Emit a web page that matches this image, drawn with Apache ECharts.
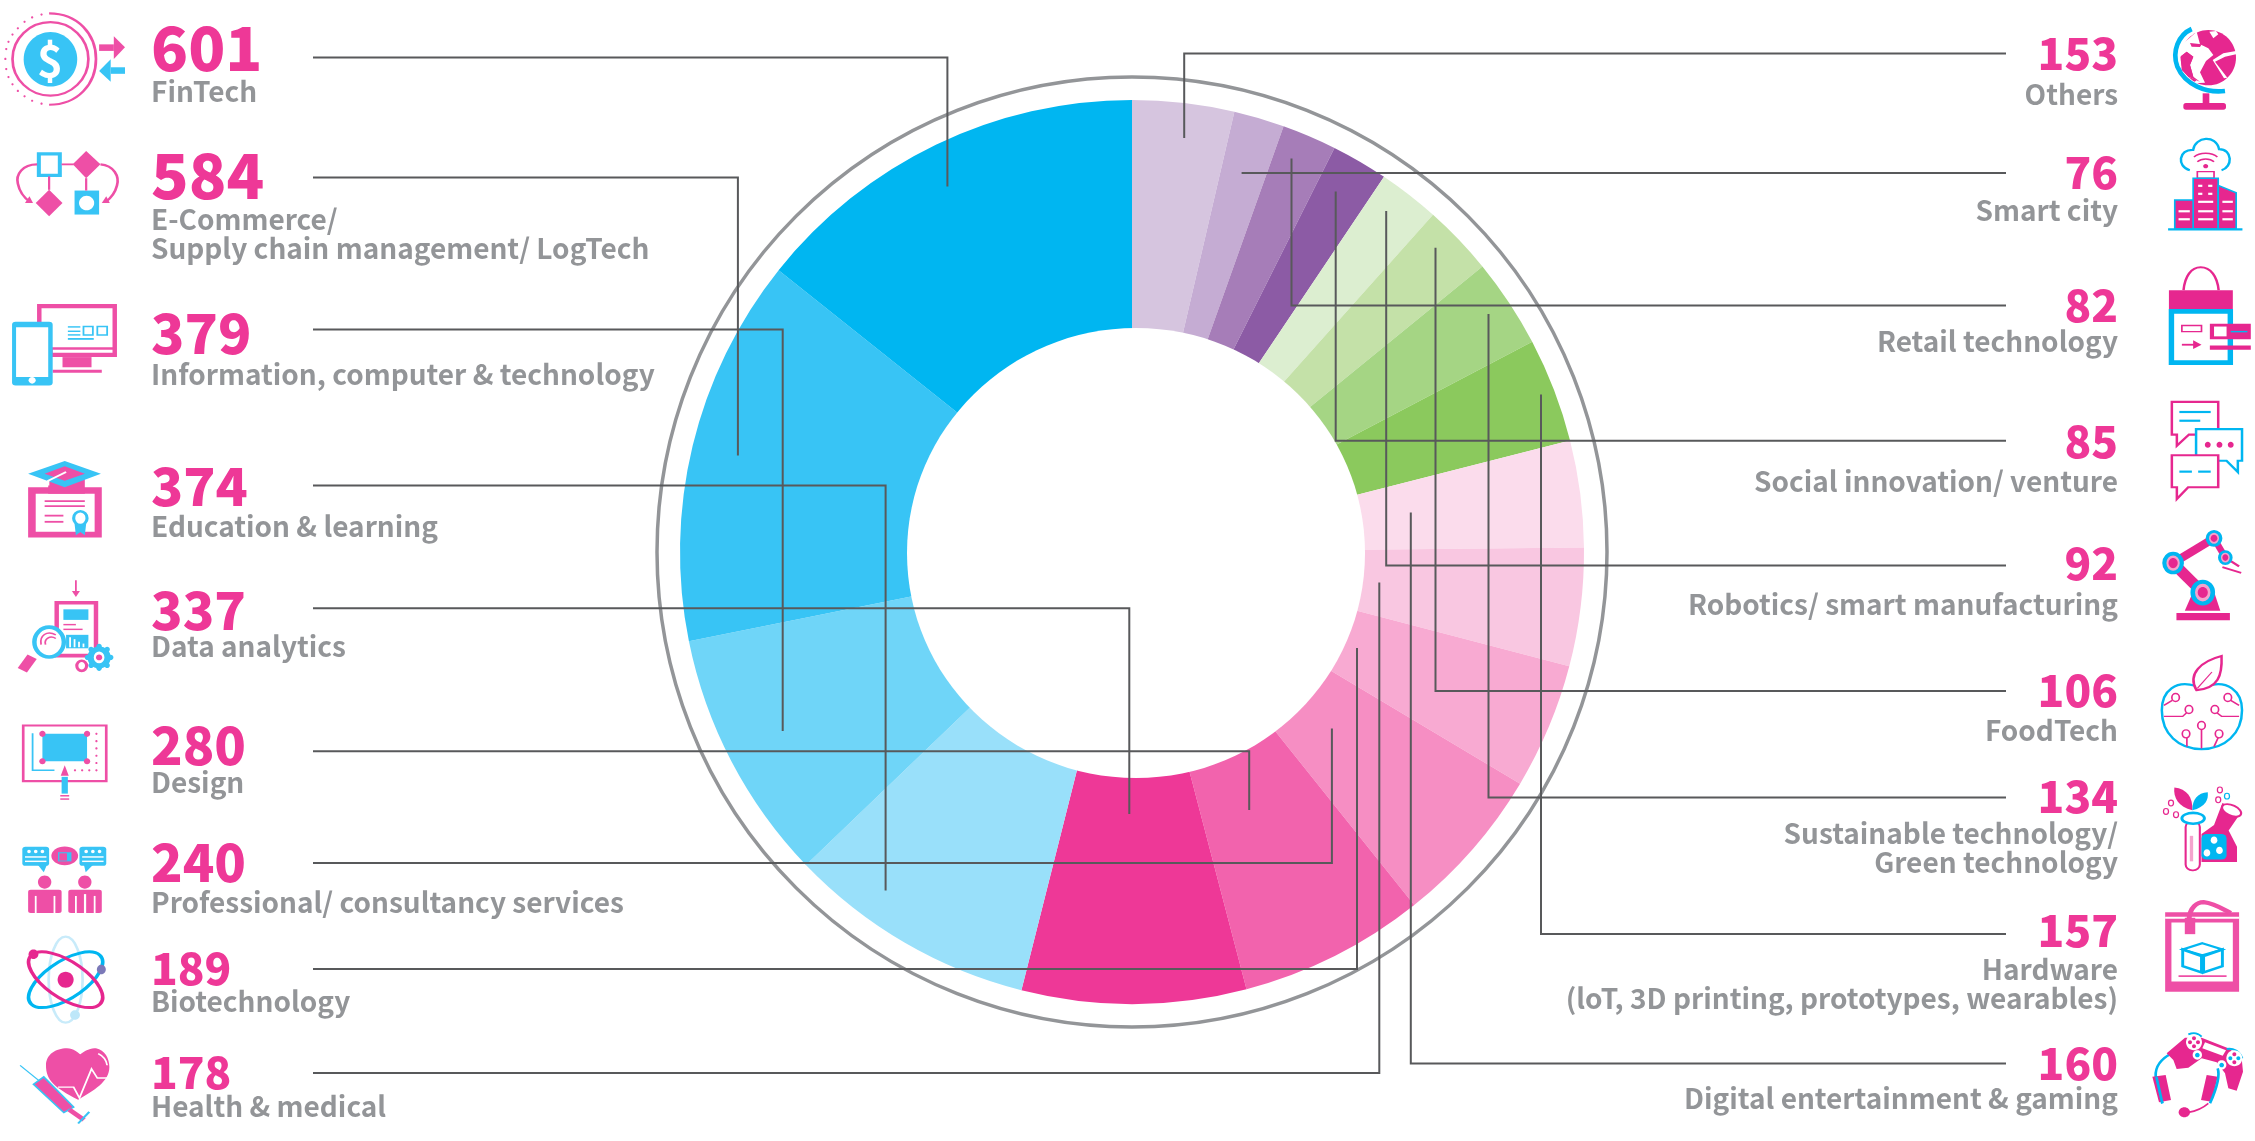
<!DOCTYPE html>
<html>
<head>
<meta charset="utf-8">
<title>Startups by sector</title>
<script src="https://cdn.jsdelivr.net/npm/echarts@6/dist/echarts.min.js"></script>
<style>html,body{margin:0;padding:0;background:#fff}#main{width:2255px;height:1141px}</style>
</head>
<body>
<div id="main"></div>
<script>
// clockwise from 12 o'clock
var categories = ['Others', 'Smart city', 'Retail technology', 'Social innovation/ venture', 'Robotics/ smart manufacturing', 'FoodTech',
    'Sustainable technology/\nGreen technology', 'Hardware\n(loT, 3D printing, prototypes, wearables)', 'Digital entertainment & gaming',
    'Health & medical', 'Biotechnology', 'Professional/ consultancy services', 'Design', 'Data analytics', 'Education & learning',
    'Information, computer & technology', 'E-Commerce/\nSupply chain management/ LogTech', 'FinTech'];
var values = [153, 76, 82, 85, 92, 106, 134, 157, 160, 178, 189, 240, 280, 337, 374, 379, 584, 601];
var colors = ['#D6C5DF', '#C5ACD3', '#A67DB8', '#8C5BA5', '#DCEED0', '#C4E1A8', '#A5D584', '#8BC95D', '#FBDCEC',
    '#F9C7E1', '#F8AAD2', '#F68EC3', '#F263AD', '#EE3897', '#99E0FA', '#6FD5F8', '#38C4F5', '#00B6F1'];

// text and leader layout, same order as categories
var numberBase = [69, 188.5, 321.5, 457.5, 579.6, 706, 812, 946, 1079, 1088, 984, 881.5, 764, 629, 505.5, 353.6, 198, 70.5];
var numberSize = [44, 44, 44, 44, 44, 44, 44, 44, 44, 44, 44, 52, 52, 52, 53, 55, 62, 61];
var labelBase = [104.7, 220.7, 352, 491.6, 615.5, 741, 843.9, 979.7, 1109, 1117, 1012.5, 913.4, 792.9, 657.4, 536.7, 384.7, 230, 102];
var lineY = [53.5, 173, 305.5, 440.7, 565.4, 691, 797.5, 934, 1063.4, 1073, 969, 863, 751.3, 608.3, 485.6, 329.6, 177.6, 57.6];
var leaderX = [1184.2, 1241.6, 1291.5, 1335.7, 1386.2, 1435.5, 1488.5, 1541, 1410.8, 1379.3, 1357, 1331.9, 1249.2, 1129.3, 885.6, 782.7, 737.9, 947.4];
var leaderEnd = [138, 173, 158.4, 191.6, 211, 247.7, 314, 394.4, 512.4, 582.5, 648, 728.6, 810, 814, 890.6, 731, 455.6, 186.5];

var PINK = '#EE3897', MID = '#EE4FA6', BLUE = '#38C4F5', CYAN = '#00B6F1', GREY = '#939598', WHITE = '#fff', DEEP = '#E6278F';
var FONT = '"Noto Sans CJK SC"';

// small shape helpers for the icons
function rc(x1, y1, x2, y2, fill, stroke, lw, r) {
    return {type: 'rect', shape: {x: x1, y: y1, width: x2 - x1, height: y2 - y1, r: r || 0}, style: {fill: fill || 'none', stroke: stroke || 'none', lineWidth: lw || 0}};
}
function el(cx, cy, rx, ry, fill, stroke, lw, rot) {
    if (rot) {
        return {type: 'ellipse', x: cx, y: cy, rotation: rot, shape: {cx: 0, cy: 0, rx: rx, ry: ry}, style: {fill: fill || 'none', stroke: stroke || 'none', lineWidth: lw || 0}};
    }
    return {type: 'ellipse', shape: {cx: cx, cy: cy, rx: rx, ry: ry}, style: {fill: fill || 'none', stroke: stroke || 'none', lineWidth: lw || 0}};
}
function pg(pts, fill, stroke, lw) {
    return {type: 'polygon', shape: {points: pts}, style: {fill: fill || 'none', stroke: stroke || 'none', lineWidth: lw || 0}};
}
function ln(pts, stroke, lw) {
    return {type: 'polyline', shape: {points: pts}, style: {fill: 'none', stroke: stroke, lineWidth: lw || 5}};
}
var pathCount = 0;
function pa(d, fill, stroke, lw) {
    // the graphic component has no raw path element, so each one is registered as a shape
    var name = 'iconPath' + (pathCount++);
    echarts.graphic.registerShape(name, echarts.graphic.extendPath(d));
    return {type: name, shape: {}, style: {fill: fill || 'none', stroke: stroke || 'none', lineWidth: lw || 0}};
}
function dots(list, r, fill) {
    return list.map(function (p) { return el(p[0], p[1], r, r * 1.2, fill); });
}
function circles(list, r, fill) {
    return list.map(function (p) { return el(p[0], p[1], r, r, fill); });
}

var iconsTop = [
    // fintech
    el(113, 162, 85, 101, WHITE, MID, 6), el(113, 163, 60, 75, BLUE),
    pa('M110 37 C175 37 215 95 215 162 C215 230 175 288 110 288', 'none', MID, 6),
    rc(222, 122, 255, 140, MID), pg([[255, 100], [280, 130], [255, 162]], MID),
    rc(248, 185, 280, 203, BLUE), pg([[248, 163], [222, 195], [248, 225]], BLUE)
].concat(dots([[93, 40], [72, 48], [55, 60], [40, 78], [28, 95], [19, 115], [14, 135], [12, 162], [14, 190], [19, 212], [28, 232], [40, 250], [55, 265], [72, 277], [93, 285]], 2.5, MID), [
    // e-commerce
    rc(87, 423, 134, 482, WHITE, BLUE, 9),
    pg([[193, 415], [225, 452], [193, 490], [163, 452]], MID), pg([[110, 522], [140, 558], [110, 595], [80, 558]], MID),
    rc(167, 524, 222, 590, BLUE), el(194, 558, 17, 20, WHITE),
    ln([[138, 452], [165, 452]], MID, 5), ln([[110, 485], [110, 522]], MID, 5), ln([[193, 490], [193, 524]], MID, 5),
    pa('M83 452 C50 452 35 480 40 505 C44 530 55 545 68 556', 'none', MID, 6),
    pa('M225 452 C255 455 268 485 262 510 C258 530 248 545 236 556', 'none', MID, 6),
    pg([[56, 558], [74, 558], [66, 540]], MID), pg([[228, 558], [246, 558], [238, 540]], MID),
    // information
    rc(83, 836, 262, 982, MID), rc(93, 848, 252, 955, WHITE), rc(118, 962, 252, 970, WHITE),
    rc(140, 982, 205, 1010, MID), rc(118, 1017, 228, 1025, MID),
    rc(27, 885, 118, 1060, BLUE, null, 0, 8), rc(36, 900, 108, 1037, WHITE), el(72, 1046, 8, 9, WHITE),
    ln([[152, 899], [180, 899]], BLUE, 4), ln([[152, 911], [180, 911]], BLUE, 4), ln([[152, 921], [180, 921]], BLUE, 4), ln([[152, 932], [210, 932]], BLUE, 5),
    rc(187, 898, 208, 921, WHITE, BLUE, 4), rc(218, 898, 240, 921, WHITE, BLUE, 4),
    // education
    rc(63, 1340, 228, 1478, MID), rc(80, 1358, 212, 1462, WHITE), rc(108, 1310, 190, 1358, MID),
    pg([[145, 1268], [226, 1303], [145, 1340], [63, 1303]], BLUE), pg([[145, 1282], [190, 1303], [145, 1322], [100, 1303]], MID),
    ln([[108, 1335], [108, 1322], [148, 1298]], WHITE, 5),
    ln([[100, 1378], [190, 1378]], MID, 5), ln([[100, 1392], [190, 1392]], MID, 5), ln([[100, 1418], [142, 1418]], MID, 5), ln([[100, 1435], [142, 1435]], MID, 5),
    pg([[167, 1440], [193, 1440], [190, 1472], [180, 1463], [170, 1472]], BLUE), el(180, 1425, 15, 19, WHITE, BLUE, 7)
]);

var iconsBottomLeft = [
    // data analytics
    ln([[170, 28], [170, 62]], MID, 4), pg([[161, 58], [179, 58], [170, 74]], MID),
    rc(122, 85, 220, 240, MID), rc(132, 95, 210, 230, WHITE), rc(142, 108, 198, 137, BLUE),
    ln([[142, 150], [170, 150]], MID, 4), ln([[142, 163], [185, 163]], MID, 4), rc(148, 178, 198, 215, BLUE),
    rc(155, 185, 159, 212, WHITE), rc(165, 190, 169, 212, WHITE), rc(175, 197, 179, 212, WHITE), rc(185, 202, 189, 212, WHITE),
    ln([[72, 238], [50, 275]], MID, 24), el(110, 198, 33, 41, WHITE, BLUE, 10),
    pa('M125 178 C105 165 88 180 92 205', 'none', MID, 4), pa('M125 188 C112 178 98 190 102 205', 'none', MID, 4),
    el(222, 240, 19, 23, WHITE, BLUE, 14), el(222, 240, 7, 8, MID), el(183, 263, 11, 14, WHITE, MID, 7)
].concat(dots([[222, 210], [222, 270], [196, 240], [248, 240], [204, 218], [240, 218], [204, 262], [240, 262]], 6, BLUE), [
    // design
    rc(52, 427, 238, 580, WHITE, MID, 6), rc(95, 450, 195, 525, BLUE),
    ln([[73, 448], [73, 550], [122, 550]], BLUE, 4)
], dots([[95, 450], [195, 450], [95, 525], [195, 525]], 7, MID),
    dots([[216, 450], [216, 470], [216, 490], [216, 510], [216, 530], [216, 550], [168, 550], [184, 550], [200, 550]], 2.5, MID), [
    pg([[145, 536], [136, 565], [154, 565]], MID), pg([[138, 568], [152, 568], [152, 614], [138, 614]], BLUE),
    rc(135, 618, 155, 622, MID), rc(135, 627, 155, 631, MID),
    // professional
    rc(50, 760, 110, 812, BLUE, null, 0, 7), pg([[85, 810], [105, 810], [98, 830]], BLUE), rc(178, 760, 238, 812, BLUE, null, 0, 7), pg([[188, 810], [208, 810], [192, 830]], BLUE),
    ln([[56, 788], [104, 788]], WHITE, 4), ln([[56, 800], [104, 800]], WHITE, 4), ln([[184, 788], [232, 788]], WHITE, 4), ln([[184, 800], [232, 800]], WHITE, 4)
], dots([[65, 773], [80, 773], [95, 773], [193, 773], [208, 773], [223, 773]], 4, WHITE), [
    el(145, 785, 30, 26, MID), rc(130, 775, 160, 800, BLUE), rc(133, 778, 150, 798, MID),
    el(100, 857, 15, 18, MID), el(190, 857, 15, 18, MID),
    rc(63, 878, 138, 942, MID, null, 0, 6), rc(153, 878, 228, 942, MID, null, 0, 6),
    rc(78, 895, 82, 942, WHITE), rc(120, 895, 124, 942, WHITE), rc(168, 895, 172, 942, WHITE), rc(210, 895, 214, 942, WHITE),
    rc(188, 890, 193, 942, WHITE),
    // biotech
    el(147, 1125, 38, 118, 'none', '#C8EBFA', 6),
    el(147, 1125, 102, 48, 'none', CYAN, 8, 0.72), el(147, 1125, 102, 48, 'none', DEEP, 8, -0.72),
    el(147, 1125, 18, 22, DEEP), el(75, 1055, 11, 13, DEEP), el(227, 1097, 10, 13, '#7B79B8'), el(168, 1222, 11, 13, '#BDE7F9'),
    // health
    pa('M175 1455 C120 1420 103 1400 103 1360 C103 1330 125 1313 150 1313 C165 1313 175 1325 180 1330 C190 1318 205 1313 215 1313 C235 1318 245 1340 245 1365 C245 1405 210 1430 175 1455Z', MID),
    ln([[130, 1420], [165, 1420], [178, 1450], [205, 1370], [218, 1395], [245, 1395]], WHITE, 4),
    pa('M220 1328 C232 1335 238 1345 240 1360', 'none', WHITE, 4),
    ln([[45, 1360], [90, 1405]], BLUE, 3), pg([[75, 1412], [98, 1392], [165, 1475], [143, 1490]], MID, BLUE, 4),
    ln([[155, 1482], [188, 1510]], MID, 12), ln([[175, 1520], [200, 1488]], BLUE, 5)
]);

var iconsTopRight = [
    // smart city
    pa('M1412 468 C1380 458 1385 410 1420 412 C1425 375 1475 370 1482 410 C1515 410 1515 460 1488 468', 'none', CYAN, 6),
    pa('M1422 432 C1435 418 1465 418 1478 432', 'none', DEEP, 4), pa('M1430 445 C1440 435 1460 435 1470 445', 'none', DEEP, 4), el(1450, 457, 6, 6, DEEP),
    rc(1430, 472, 1470, 490, WHITE, DEEP, 4),
    rc(1420, 490, 1480, 630, DEEP, CYAN, 4), rc(1376, 550, 1420, 630, DEEP, CYAN, 4), pg([[1480, 510], [1523, 530], [1523, 630], [1480, 630]], DEEP, CYAN, 4),
    rc(1360, 628, 1538, 634, CYAN),
    rc(1432, 508, 1442, 514, WHITE), rc(1456, 508, 1466, 514, WHITE), rc(1432, 530, 1442, 536, WHITE), rc(1456, 530, 1466, 536, WHITE),
    rc(1432, 552, 1468, 558, WHITE), rc(1432, 578, 1468, 584, WHITE), rc(1432, 600, 1468, 606, WHITE),
    rc(1385, 578, 1412, 584, WHITE), rc(1385, 600, 1412, 606, WHITE), rc(1490, 552, 1515, 558, WHITE), rc(1490, 578, 1515, 584, WHITE), rc(1490, 600, 1515, 606, WHITE),
    // retail
    pa('M1397 798 C1400 760 1415 735 1438 735 C1462 735 1478 760 1481 798', 'none', DEEP, 6),
    rc(1368, 856, 1509, 997, WHITE, CYAN, 13), rc(1362, 798, 1515, 850, DEEP),
    rc(1393, 895, 1440, 912, WHITE, DEEP, 4), ln([[1393, 948], [1425, 948]], DEEP, 5), pg([[1420, 936], [1440, 948], [1420, 960]], DEEP),
    rc(1460, 890, 1558, 933, DEEP), rc(1470, 898, 1500, 925, WHITE), ln([[1510, 912], [1550, 912]], CYAN, 4), rc(1460, 950, 1558, 962, DEEP),
    // social
    pa('M1369 1105 H1480 V1195 H1410 L1381 1226 V1195 H1369 Z', WHITE, DEEP, 6),
    ln([[1387, 1133], [1462, 1133]], CYAN, 6), ln([[1387, 1157], [1437, 1157]], CYAN, 6),
    pa('M1427 1180 H1537 V1267 H1527 V1298 L1500 1267 H1427 Z', WHITE, CYAN, 6)
].concat(dots([[1455, 1223], [1483, 1223], [1510, 1223]], 7, DEEP), [
    pa('M1369 1252 H1480 V1340 H1408 L1381 1372 V1340 H1369 Z', WHITE, DEEP, 6),
    ln([[1387, 1297], [1417, 1297]], CYAN, 6), ln([[1432, 1297], [1462, 1297]], CYAN, 6)
]);

var iconsBottomRight = [
    // robotics
    ln([[1372, -19], [1470, -87]], DEEP, 22), ln([[1470, -87], [1497, -34]], DEEP, 16), ln([[1372, -19], [1443, 62]], DEEP, 28),
    ln([[1497, -34], [1530, -10]], DEEP, 6), ln([[1490, -8], [1535, 8]], DEEP, 5),
    pg([[1420, 60], [1470, 60], [1485, 112], [1400, 112]], DEEP), rc(1380, 118, 1508, 138, DEEP),
    el(1443, 62, 24, 30, '#F4A3CD', CYAN, 11), el(1443, 62, 12, 15, DEEP),
    el(1372, -19, 21, 26, '#F4A3CD', CYAN, 10), el(1372, -19, 11, 14, DEEP),
    el(1470, -87, 16, 19, '#F4A3CD', CYAN, 8), el(1470, -87, 8, 10, DEEP),
    el(1497, -34, 14, 17, '#F4A3CD', CYAN, 7), el(1497, -34, 7, 9, DEEP),
    // foodtech
    pa('M1425 318 C1380 302 1345 330 1345 385 C1345 450 1385 492 1440 492 C1495 492 1537 450 1537 385 C1537 330 1500 302 1455 318', WHITE, CYAN, 6),
    pa('M1428 330 C1405 285 1440 250 1488 236 C1490 290 1480 325 1428 330 Z', WHITE, DEEP, 6), ln([[1430, 325], [1465, 280]], DEEP, 3),
    ln([[1350, 372], [1370, 358]], DEEP, 4), ln([[1530, 372], [1510, 358]], DEEP, 4),
    ln([[1350, 402], [1395, 402], [1408, 388]], DEEP, 4), ln([[1530, 402], [1488, 402], [1472, 388]], DEEP, 4),
    ln([[1440, 490], [1440, 435]], DEEP, 4), ln([[1405, 485], [1405, 455]], DEEP, 4), ln([[1470, 485], [1482, 455]], DEEP, 4),
    el(1378, 350, 9, 11, WHITE, DEEP, 4), el(1503, 350, 9, 11, WHITE, DEEP, 4), el(1410, 383, 9, 11, WHITE, DEEP, 4), el(1472, 383, 9, 11, WHITE, DEEP, 4),
    el(1440, 427, 9, 11, WHITE, DEEP, 4), el(1403, 450, 9, 11, WHITE, DEEP, 4), el(1482, 450, 9, 11, WHITE, DEEP, 4),
    // sustainable
    pa('M1418 660 C1385 650 1372 625 1375 597 C1405 600 1420 625 1418 660 Z', DEEP), pa('M1418 660 C1450 650 1457 630 1455 610 C1430 612 1418 630 1418 660 Z', CYAN),
    pg([[1490, 640], [1535, 665], [1505, 715], [1525, 760], [1525, 802], [1440, 802], [1440, 725], [1470, 700]], DEEP),
    rc(1440, 725, 1500, 795, CYAN, null, 0, 12),
    el(1470, 742, 8, 10, WHITE), el(1453, 777, 8, 10, WHITE), el(1483, 770, 8, 10, WHITE),
    el(1512, 660, 25, 14, WHITE, DEEP, 5, -0.5),
    rc(1402, 690, 1436, 825, WHITE, DEEP, 5, 16), rc(1412, 730, 1420, 800, '#F4A3CD'), el(1420, 682, 27, 15, WHITE, CYAN, 7),
    el(1367, 640, 6, 8, WHITE, DEEP, 3), el(1355, 663, 6, 8, WHITE, DEEP, 3), el(1379, 672, 6, 8, WHITE, DEEP, 3),
    el(1484, 604, 6, 8, WHITE, DEEP, 3), el(1501, 621, 6, 8, WHITE, CYAN, 3), el(1480, 631, 6, 8, WHITE, DEEP, 3),
    // hardware
    rc(1353, 940, 1530, 1158, MID), rc(1368, 968, 1515, 1130, WHITE), rc(1353, 952, 1530, 958, WHITE),
    pa('M1410 960 C1412 925 1430 912 1445 912 C1470 915 1490 930 1510 942', 'none', MID, 12),
    rc(1400, 955, 1425, 1000, MID),
    pg([[1442, 1025], [1490, 1042], [1442, 1058], [1395, 1042]], WHITE, CYAN, 6),
    pg([[1395, 1042], [1440, 1060], [1440, 1105], [1395, 1088]], WHITE, CYAN, 7), pg([[1490, 1042], [1445, 1060], [1445, 1105], [1490, 1088]], WHITE, CYAN, 7),
    ln([[1385, 1115], [1500, 1115]], MID, 5)
];

// these two are drawn at 3x around their own corner
var iconGlobe = [
    el(175, 128, 83, 83, DEEP),
    pa('M88 95 L140 50 L150 88 L175 100 L190 120 L168 138 L150 172 L165 203 L130 205 L140 195 L115 185 L130 185 L120 150 L130 125 L110 110 L90 125 Z', WHITE),
    pg([[92, 125], [110, 110], [130, 125], [120, 150], [130, 185], [150, 200], [115, 185], [95, 165]], DEEP),
    pg([[120, 84], [155, 88], [150, 96], [125, 95]], DEEP),
    pg([[178, 50], [190, 70], [205, 58], [198, 48]], WHITE), pg([[195, 140], [225, 125], [258, 118], [258, 108], [220, 115], [188, 135], [222, 190], [232, 188]], WHITE),
    pa('M125 42 C85 60 65 110 82 155 C105 210 170 235 225 228', 'none', CYAN, 14),
    rc(158, 235, 178, 268, DEEP), rc(100, 264, 228, 284, DEEP, null, 0, 8)
];
var iconGaming = [
    pa('M80 85 C50 100 30 125 32 155 L52 235', 'none', CYAN, 8),
    pa('M65 85 L120 38 L170 38 L250 70 L290 100 L294 140 L275 197 L250 190 L240 145 L215 112 L170 100 L130 128 L95 132 L85 105 Z', DEEP),
    pg([[180, 52], [243, 76], [233, 92], [172, 70]], WHITE),
    pa('M130 28 C145 22 160 25 170 35', 'none', CYAN, 6), pa('M245 72 C265 68 285 80 292 100', 'none', CYAN, 6),
    el(147, 52, 24, 24, WHITE), el(268, 100, 24, 24, WHITE),
    el(157, 90, 14, 14, WHITE), el(157, 90, 7, 7, CYAN), el(230, 120, 14, 14, WHITE), el(230, 120, 7, 7, CYAN),
    pg([[22, 155], [62, 150], [78, 225], [42, 232]], DEEP), pg([[185, 150], [218, 155], [200, 230], [168, 225]], DEEP),
    pa('M218 130 C225 150 215 190 195 235', 'none', CYAN, 8), ln([[34, 155], [52, 235]], CYAN, 8),
    el(118, 262, 17, 15, DEEP), pa('M130 262 C155 258 175 248 190 235', 'none', DEEP, 5)
].concat(circles([[147, 40], [147, 64], [135, 52], [159, 52]], 6, DEEP), circles([[268, 88], [268, 112]], 6, DEEP), circles([[256, 100], [280, 100]], 6, CYAN));

var elements = [];
elements.push({type: 'circle', shape: {cx: 1132, cy: 552, r: 475}, style: {fill: 'none', stroke: GREY, lineWidth: 3.5}});
// the hole sits slightly off the pie's centre in the original
elements.push({type: 'ellipse', shape: {cx: 1136, cy: 553, rx: 229, ry: 225}, style: {fill: WHITE}});

categories.forEach(function (name, i) {
    var right = i < 9;
    // leader line
    var pts = right ? [[2006, lineY[i]], [leaderX[i], lineY[i]], [leaderX[i], leaderEnd[i]]]
                    : [[313, lineY[i]], [leaderX[i], lineY[i]], [leaderX[i], leaderEnd[i]]];
    elements.push({type: 'polyline', shape: {points: pts}, style: {fill: 'none', stroke: '#58595B', lineWidth: 2}});
    // number
    elements.push({type: 'text', x: right ? 2118 : 151, y: numberBase[i] - numberSize[i] * 0.365, style: {
        text: String(values[i]), fill: PINK, font: '900 ' + numberSize[i] + 'px ' + FONT, textAlign: right ? 'right' : 'left', textVerticalAlign: 'middle'
    }});
    // category name, one element per line
    name.split('\n').forEach(function (line, k) {
        elements.push({type: 'text', x: right ? 2118 : 151, y: labelBase[i] + k * 29 - 10.7, style: {
            text: line, fill: GREY, font: '700 28px ' + FONT, textAlign: right ? 'right' : 'left', textVerticalAlign: 'middle'
        }});
    });
});

elements.push({type: 'group', scaleX: 1 / 2.24, scaleY: 1 / 2.75, children: iconsTop});
elements.push({type: 'text', x: 50, y: 60, style: {text: '$', fill: WHITE, font: '700 44px ' + FONT, textAlign: 'center', textVerticalAlign: 'middle'}});
elements.push({type: 'group', y: 570, scaleX: 1 / 2.24, scaleY: 1 / 2.746, children: iconsBottomLeft});
elements.push({type: 'group', scaleX: 1 / 2.394, scaleY: 1 / 2.75, children: [{type: 'group', x: 1600 * 2.394, children: iconsTopRight}]});
elements.push({type: 'group', y: 570, scaleX: 1 / 2.394, scaleY: 1 / 2.746, children: [{type: 'group', x: 1600 * 2.394, children: iconsBottomRight}]});
elements.push({type: 'group', x: 2150, y: 15, scaleX: 1 / 3, scaleY: 1 / 3, children: iconGlobe});
elements.push({type: 'group', x: 2145, y: 1025, scaleX: 1 / 3, scaleY: 1 / 3, children: iconGaming});

var myChart = echarts.init(document.getElementById('main'));
myChart.setOption({
    backgroundColor: '#fff',
    animation: false,
    series: [{
        type: 'pie',
        z: -5,
        center: [1132, 552],
        radius: [200, 452],
        startAngle: 90,
        clockwise: true,
        silent: true,
        label: {show: false},
        labelLine: {show: false},
        itemStyle: {borderWidth: 0},
        data: categories.map(function (name, i) {
            return {name: name, value: values[i], itemStyle: {color: colors[i]}};
        })
    }],
    graphic: {elements: elements}
});
</script>
</body>
</html>
